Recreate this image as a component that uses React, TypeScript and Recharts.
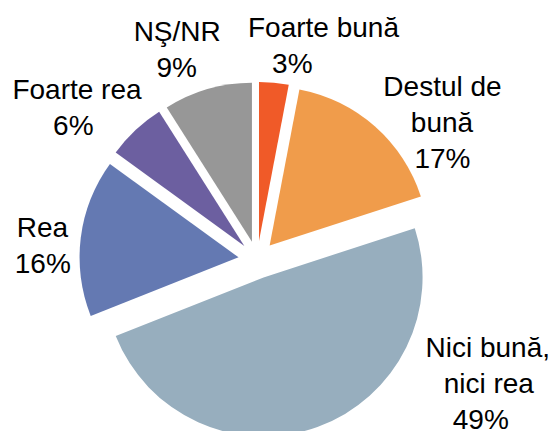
import React from 'react';
import { PieChart, Pie, Cell } from 'recharts';

const categories = ['Foarte bună', 'Destul de bună', 'Nici bună, nici rea', 'Rea', 'Foarte rea', 'NŞ/NR'];
const values = [3, 17, 49, 16, 6, 9];
const percentLabels = ['3%', '17%', '49%', '16%', '6%', '9%'];
const nameLines = [['Foarte bună'], ['Destul de', 'bună'], ['Nici bună,', 'nici rea'], ['Rea'], ['Foarte rea'], ['NŞ/NR']];
const colors = ['#F05A28', '#F09C4B', '#97AEBE', '#6479B2', '#6C5FA0', '#979797'];

// layout
const W = 553;
const H = 431;
const CX = 257.2;
const CY = 259.7;
const R = 159;
const EXPLODE = 18.8;
const LINE_H = 36;
const FONT = 28;
// per-slice label line centers (x) and first baseline (y)
const labelLayout = [
  { xs: [323.5, 292.3], y: 36.7 },
  { xs: [442.5, 442, 442.5], y: 96 },
  { xs: [487.8, 488.8, 480.8], y: 356.7 },
  { xs: [42.5, 42.8], y: 236.7 },
  { xs: [77, 73.3], y: 99 },
  { xs: [177.2, 176.7], y: 41 },
];

const data = categories.map((name, i) => ({ name, value: values[i] }));
const total = values.reduce((a, b) => a + b, 0);

const midAngles: number[] = [];
{
  let cum = 0;
  values.forEach((v) => {
    midAngles.push(90 - (360 * (cum + v / 2)) / total);
    cum += v;
  });
}

export default function App() {
  return (
    <div style={{ position: 'absolute', left: 0, top: 0, width: W, height: H, background: '#fff' }}>
      <PieChart width={W} height={H} margin={{ top: 0, right: 0, bottom: 0, left: 0 }}>
        {data.map((_, si) => {
          const rad = (midAngles[si] * Math.PI) / 180;
          const cx = CX + EXPLODE * Math.cos(rad);
          const cy = CY - EXPLODE * Math.sin(rad);
          const lines = [...nameLines[si], percentLabels[si]];
          const lay = labelLayout[si];
          return (
            <Pie
              key={si}
              data={data}
              dataKey="value"
              nameKey="name"
              cx={cx}
              cy={cy}
              outerRadius={R}
              innerRadius={0}
              startAngle={90}
              endAngle={-270}
              isAnimationActive={false}
              stroke="none"
              labelLine={false}
              label={(p: any) => {
                if (p.index !== si) return null;
                return (
                  <text
                    key={`lbl-${si}`}
                    fill="#000"
                    fontFamily="'Liberation Sans', Arial, sans-serif"
                    fontSize={FONT}
                    textAnchor="middle"
                  >
                    {lines.map((t, li) => (
                      <tspan key={li} x={lay.xs[li]} y={lay.y + li * LINE_H}>
                        {t}
                      </tspan>
                    ))}
                  </text>
                );
              }}
            >
              {data.map((d, ci) => (
                <Cell key={ci} fill={ci === si ? colors[ci] : 'none'} stroke="none" />
              ))}
            </Pie>
          );
        })}
      </PieChart>
    </div>
  );
}
